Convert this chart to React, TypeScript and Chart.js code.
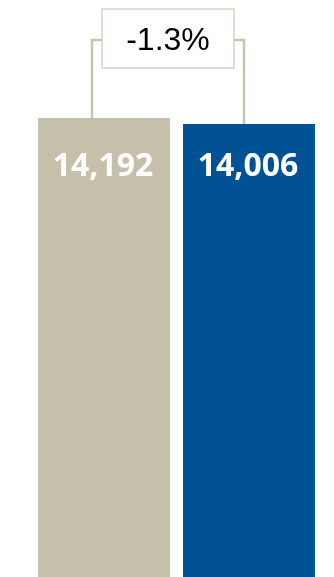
import React, { useEffect, useRef } from "react";
import { Chart, registerables } from "chart.js";

Chart.register(...registerables);

const categories = ["Prior", "Current"];
const values = [14192, 14006];
const valueLabels = ["14,192", "14,006"];
const changeLabel = "-1.3%";
const barColors = ["#C6BFAA", "#005294"];

const annotationPlugin = {
  id: "annot",
  afterDatasetsDraw(chart: any) {
    const ctx = chart.ctx;
    const meta = chart.getDatasetMeta(0);
    const b1 = meta.data[0];
    const b2 = meta.data[1];
    ctx.save();
    // value labels
    ctx.fillStyle = "#FFFFFF";
    ctx.font = "bold 32px 'Open Sans', Arial, sans-serif";
    ctx.textAlign = "center";
    ctx.textBaseline = "middle";
    meta.data.forEach((bar: any, i: number) => {
      ctx.fillText(valueLabels[i], bar.x - 1, 167);
    });
    // annotation box
    const boxL = 102, boxR = 234, boxT = 9, boxB = 68;
    const lineY = 40;
    const lx = b1.x - 12;
    const rx = b2.x - 5;
    ctx.strokeStyle = "#CAC3AF";
    ctx.lineWidth = 2.5;
    ctx.beginPath();
    ctx.moveTo(lx, b1.y);
    ctx.lineTo(lx, lineY);
    ctx.lineTo(boxL, lineY);
    ctx.moveTo(boxR, lineY);
    ctx.lineTo(rx, lineY);
    ctx.lineTo(rx, b2.y);
    ctx.stroke();
    ctx.fillStyle = "#FFFFFF";
    ctx.fillRect(boxL, boxT, boxR - boxL, boxB - boxT);
    ctx.strokeStyle = "#D8D2C2";
    ctx.lineWidth = 1.5;
    ctx.strokeRect(boxL, boxT, boxR - boxL, boxB - boxT);
    ctx.fillStyle = "#000000";
    ctx.font = "32px 'Liberation Sans', Arial, sans-serif";
    ctx.fillText(changeLabel, (boxL + boxR) / 2, 41);
    ctx.restore();
  },
};

export default function App() {
  const ref = useRef<HTMLCanvasElement>(null);
  useEffect(() => {
    document.body.style.margin = "0";
    const chart = new Chart(ref.current as HTMLCanvasElement, {
      type: "bar",
      data: {
        labels: categories,
        datasets: [
          {
            data: values,
            backgroundColor: barColors,
            borderWidth: 0,
            barPercentage: 1,
            categoryPercentage: 0.91,
          },
        ],
      },
      options: {
        animation: false,
        responsive: false,
        maintainAspectRatio: false,
        layout: { padding: { left: 31.5, right: 12.5, top: 0, bottom: 0 } },
        plugins: { legend: { display: false }, tooltip: { enabled: false } },
        scales: {
          x: { display: false },
          y: { display: false, min: 0, max: 17840 },
        },
      },
      plugins: [annotationPlugin],
    });
    return () => chart.destroy();
  }, []);
  return (
    <div style={{ width: 334, height: 577 }}>
      <canvas ref={ref} width={334} height={577} style={{ display: "block" }} />
    </div>
  );
}
